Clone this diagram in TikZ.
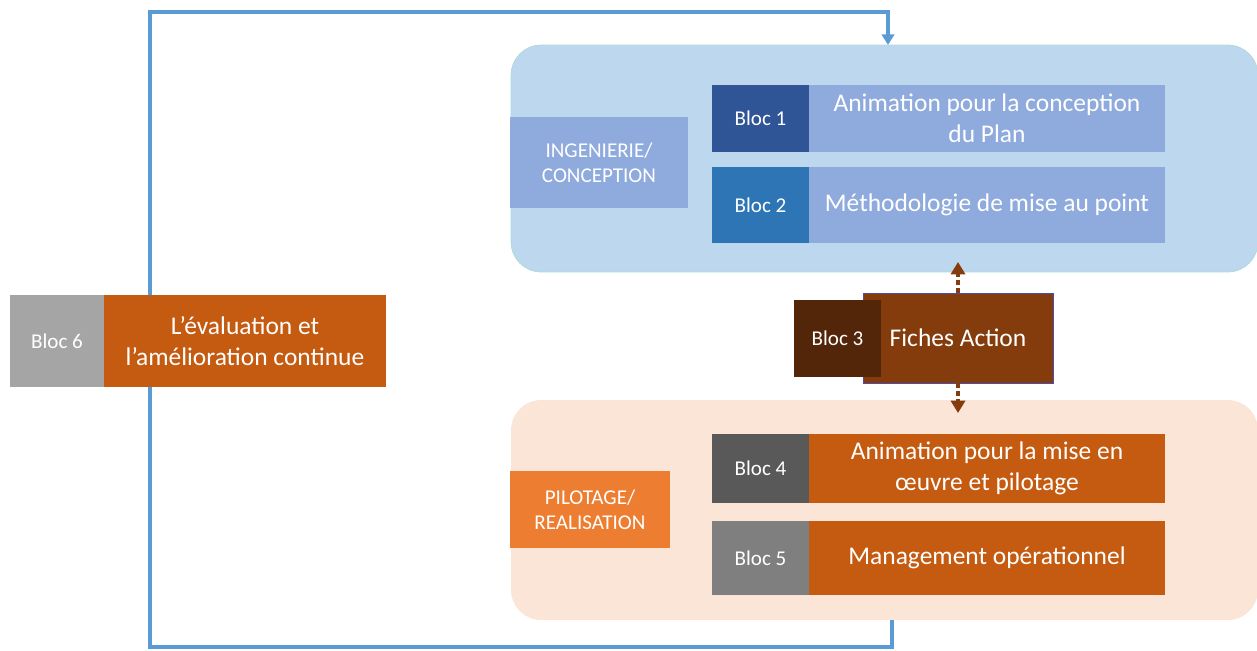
\documentclass[tikz,border=0pt]{standalone}
\usepackage{fontspec}
\setmainfont{Carlito}
\usetikzlibrary{arrows.meta}
\definecolor{grpblue}{HTML}{BDD7EE}
\definecolor{grppeach}{HTML}{FBE5D6}
\definecolor{lblue}{HTML}{8FAADC}
\definecolor{dblue}{HTML}{2F5597}
\definecolor{mblue}{HTML}{2E75B6}
\definecolor{dorange}{HTML}{C55A11}
\definecolor{lorange}{HTML}{ED7D31}
\definecolor{dgray}{HTML}{595959}
\definecolor{mgray}{HTML}{7F7F7F}
\definecolor{lgray}{HTML}{A5A5A5}
\definecolor{brown}{HTML}{843C0C}
\definecolor{dbrown}{HTML}{53260A}
\definecolor{loopblue}{HTML}{5B9BD5}
\begin{document}
\begin{tikzpicture}[
        x=0.02cm, y=-0.02cm,
        font=\fontsize{14.5}{17.5}\selectfont
    ]
    \tikzset{
        group/.style = {rectangle, rounded corners=0.6cm, minimum width=14.94cm},
        blocnode/.style = {rectangle, inner sep=0pt, text=white, minimum width=1.94cm,
            font=\fontsize{12}{14}\selectfont},
        textnode/.style = {rectangle, inner sep=0pt, text=white, align=center, minimum width=7.12cm},
        phasenode/.style = {rectangle, inner sep=0pt, text=white, align=center,
            font=\fontsize{12}{14}\selectfont},
        edgeloop/.style = {line width=2.3pt, loopblue, -{Triangle[width=7pt,length=6pt]}},
        edged/.style = {line width=2.5pt, brown, dotted, -{Triangle[width=8pt,length=7pt]}},
    }
    \useasboundingbox (0,0) rectangle (1257,650);
    % groups
    \node[group, fill=grpblue, draw=green!8!grpblue, minimum height=4.54cm] at (884.5,158.5) (conc) {};
    \node[group, fill=grppeach, minimum height=4.4cm] at (884.5,510) (pilo) {};
    %
    \node[phasenode, fill=lblue, minimum width=3.56cm, minimum height=1.82cm] at (599,162.5) (ing) {INGENIERIE/\\CONCEPTION};
    \node[blocnode, fill=dblue, minimum height=1.34cm] at (760.5,118.5) (b1) {Bloc 1};
    \node[textnode, fill=lblue, minimum height=1.34cm] at (987,118.5) (t1) {Animation pour la conception\\du Plan};
    \node[blocnode, fill=mblue, minimum height=1.52cm] at (760.5,205) (b2) {Bloc 2};
    \node[textnode, fill=lblue, minimum height=1.52cm] at (987,205) (t2) {Méthodologie de mise au point};
    %
    \node[rectangle, fill=brown, draw=blue!40!gray, thin, text=white, minimum width=3.8cm, minimum height=1.8cm] at (958,338) (t3) {Fiches Action};
    \node[blocnode, fill=dbrown, minimum width=1.74cm, minimum height=1.54cm] at (837.5,338.5) (b3) {Bloc 3};
    %
    \node[phasenode, fill=lorange, minimum width=3.2cm, minimum height=1.54cm] at (590,509.5) (pil) {PILOTAGE/\\REALISATION};
    \node[blocnode, fill=dgray, minimum height=1.38cm] at (760.5,468.5) (b4) {Bloc 4};
    \node[textnode, fill=dorange, minimum height=1.38cm] at (987,468.5) (t4) {Animation pour la mise en\\œuvre et pilotage};
    \node[blocnode, fill=mgray, minimum height=1.48cm] at (760.5,558) (b5) {Bloc 5};
    \node[textnode, fill=dorange, minimum height=1.48cm] at (987,558) (t5) {Management opérationnel};
    %
    \coordinate (up) at (958,262);
    \coordinate (down) at (958,413);
    \draw[edged] (t3.north) -- (up);
    \draw[edged] (t3.south) -- (down);
    %
    \coordinate (out) at (892,620);
    \coordinate (in) at (888,45);
    \draw[edgeloop] (out) -- (892,647) -| (150,12) -| (in);
    % bloc 6 sits over the loop
    \node[blocnode, fill=lgray, minimum width=1.88cm, minimum height=1.84cm] at (57,341) (b6) {Bloc 6};
    \node[textnode, fill=dorange, minimum width=5.64cm, minimum height=1.84cm] at (245,341) (t6) {L’évaluation et\\l’amélioration continue};
\end{tikzpicture}
\end{document}
